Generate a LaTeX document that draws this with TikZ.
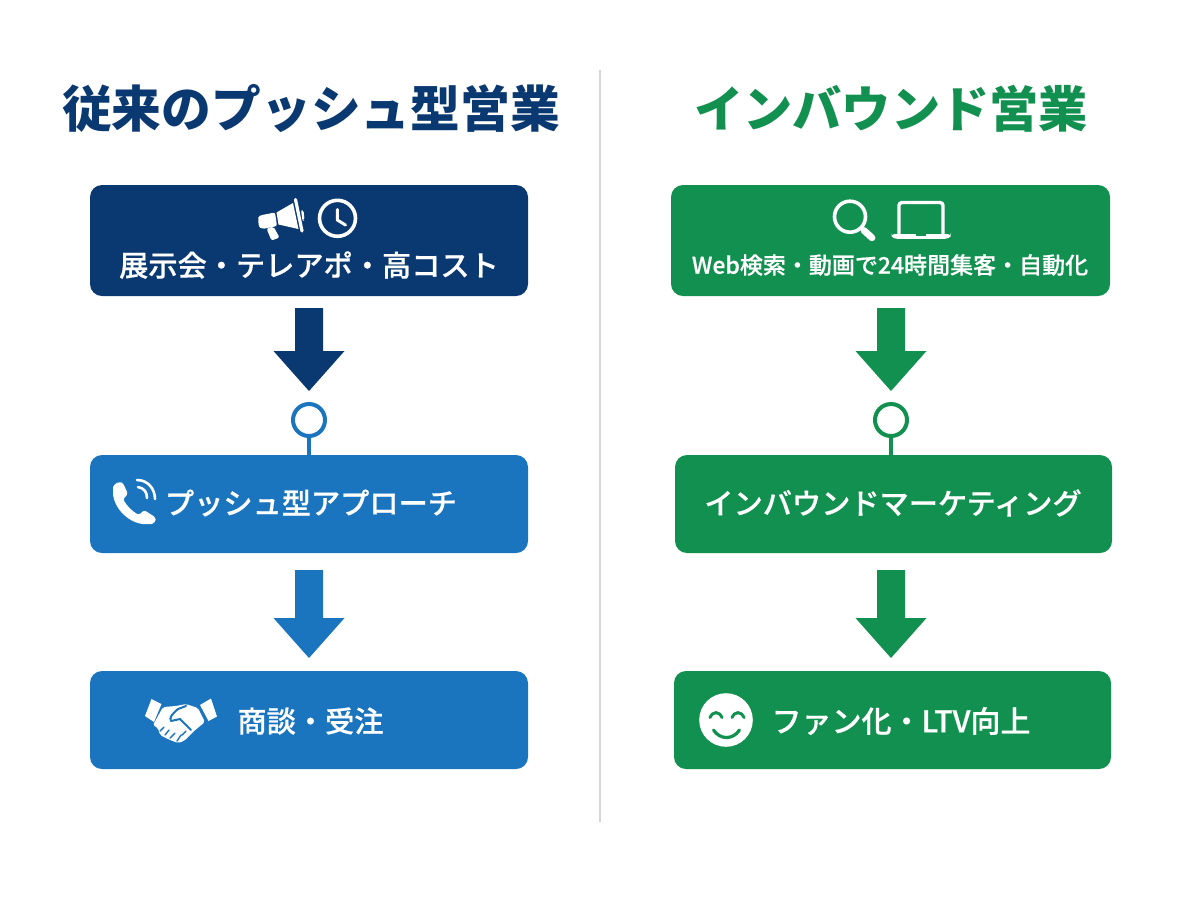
\documentclass[tikz,border=0pt]{standalone}
\usepackage{fontspec}
\setmainfont{Noto Sans CJK JP}
\newfontfamily\medfont[FakeBold=0.5]{Noto Sans CJK JP Medium}
\usetikzlibrary{shapes.arrows}
\definecolor{navy}{HTML}{0A3871}
\definecolor{blu}{HTML}{1A74BE}
\definecolor{grn}{HTML}{12904F}
\definecolor{divi}{HTML}{D6D6D6}
\tikzset{
  box/.style={rounded corners=6pt,minimum height=#1,inner sep=0pt,text=white},
  lab/.style={text=white,font=\fontsize{14.6}{16}\selectfont\medfont,inner sep=0pt},
  ttl/.style={font=\fontsize{24.9}{28}\selectfont\bfseries,inner sep=0pt},
  ring/.style={circle,draw=#1,line width=2pt,fill=white,minimum size=16pt,inner sep=0pt},
  stem/.style={line width=2pt},
}
\newcommand{\blockarrow}[5]{% name, colour, centre x, top y, shaft length
  \fill[#2] (#3-14,#4) -- (#3+14,#4) -- (#3+14,#4+#5) -- (#3+35.5,#4+#5) -- (#3,#4+#5+40) -- (#3-35.5,#4+#5) -- (#3-14,#4+#5) -- cycle;
  \coordinate (#1) at (#3,#4+#5+40);
}
\begin{document}
\begin{tikzpicture}[x=0.5pt,y=-0.5pt]
\useasboundingbox (0,0) rectangle (1200,896);
\fill[white] (0,0) rectangle (1200,896);
% divider
\coordinate (dt) at (600,70); \coordinate (db) at (600,822);
\draw[divi,line width=1pt] (dt) -- (db);
% titles
\node[ttl,text=navy] (t1) at (311,109) {従来のプッシュ型営業};
\node[ttl,text=grn,font=\fontsize{24.6}{28}\selectfont\bfseries] (t2) at (891,109) {インバウンド営業};
% left boxes
\node[box=55.5pt,fill=navy,minimum width=219pt] (a1) at (309,240.5) {};
\node[box=49pt,fill=blu,minimum width=219pt] (a2) at (309,504) {};
\node[box=49pt,fill=blu,minimum width=219pt] (a3) at (309,720) {};
% right boxes
\node[box=55.5pt,fill=grn,minimum width=219.5pt] (b1) at (890.5,240.5) {};
\node[box=49pt,fill=grn,minimum width=218.5pt] (b2) at (893.5,504) {};
\node[box=49pt,fill=grn,minimum width=218.5pt] (b3) at (892.5,720) {};
% labels
\node[lab] (la1) at (309,265) {展示会・テレアポ・高コスト};
\node[lab] (la2) at (311,503) {プッシュ型アプローチ};
\node[lab] (la3) at (310.5,721) {商談・受注};
\node[lab,font=\fontsize{11.5}{14}\selectfont\medfont] (lb1) at (890,265) {Web検索・動画で24時間集客・自動化};
\node[lab] (lb2) at (893,503) {インバウンドマーケティング};
\node[lab,font=\fontsize{15}{16}\selectfont\medfont] (lb3) at (901,721) {ファン化・LTV向上};
% block arrows
\blockarrow{ar1}{navy}{309}{308}{43}
\blockarrow{ar2}{blu}{309}{570}{48}
\blockarrow{br1}{grn}{891}{308}{43}
\blockarrow{br2}{grn}{891}{570}{48}
% rings
\node[ring=blu] (ca) at (309,420) {};
\node[ring=grn] (cb) at (891,420) {};
\draw[blu,stem] (ca.south) -- (ca.south |- a2.north);
\draw[grn,stem] (cb.south) -- (cb.south |- b2.north);
% megaphone
\fill[white,rounded corners=1pt] (258.5,219) .. controls (259,215) and (265,214.5) .. (275,212.5) -- (277,226) -- (262,229) .. controls (259,227) and (258,223) .. (258.5,219) -- cycle;
\fill[white,rounded corners=1pt] (266.5,228.5) -- (273.5,226.5) -- (279.5,237.5) -- (271.5,240.5) -- cycle;
\fill[white] (276.5,212.5) -- (293,203) -- (298.5,229) -- (278.5,224.5) -- cycle;
\draw[white,line width=1.6pt,line cap=round] (295.5,199.5) -- (302,231);
\fill[white,rounded corners=1pt] (301,210) -- (303.5,210) -- (304.5,220) -- (302.5,221) -- cycle;
% clock
\node[circle,draw=white,line width=1.8pt,minimum size=18pt,inner sep=0pt] (clk) at (337.5,218.3) {};
\draw[white,line width=1.5pt,line cap=round,line join=round] (337.3,209.5) -- (337.3,220) -- (345.5,225);
% phone
\fill[white,rounded corners=1.2pt] (113,490) .. controls (113,486) and (116,483) .. (120,482) -- (123,483) -- (128,494) -- (123,499) .. controls (127,506) and (132,511) .. (139,515) -- (144,510) -- (155,517) .. controls (156,521) and (153,524) .. (149,524) .. controls (130,525) and (113,508) .. (113,490) -- cycle;
\draw[white,line width=1.3pt,line cap=round] (138,487) .. controls (144,488) and (147,492) .. (147,498);
\draw[white,line width=1.3pt,line cap=round] (137,480) .. controls (148,480) and (155,489) .. (155,499);
% handshake
\fill[white] (151.5,699) -- (161.5,704) -- (154,722) -- (145,716) -- cycle;
\fill[white] (200,705) -- (211,698.5) -- (217,716.5) -- (208.5,721) -- cycle;
\fill[white,rounded corners=1pt] (163,707) -- (176,706) -- (186,704) -- (198,708) -- (205,722) -- (194,731) -- (184,741) -- (178,743) -- (170,740) -- (160,735) -- (158,728) -- (153,725) -- cycle;
\draw[blu,line width=1pt,line join=round,line cap=round] (191,730) -- (180,719) -- (171,721) .. controls (169,718) and (172,714) .. (178,709) -- (186,706);
\draw[blu,line width=.7pt,line cap=round] (164,727) -- (160,731) (169,730) -- (165,735) (175,733) -- (170,738) (181,735) -- (177,741) (186,731) -- (182,735);
% magnifier
\node[circle,draw=white,line width=1.8pt,minimum size=15.5pt,inner sep=0pt] (mg) at (850,216.7) {};
\draw[white,line width=1.5pt] (mg.-45) -- (864,230.5);
\draw[white,line width=3.4pt,line cap=round] (864,230.5) -- (872,237.8);
% laptop
\draw[white,line width=1.7pt,rounded corners=1.5pt] (899,234) -- (899,202.5) -- (943,202.5) -- (943,234);
\fill[white,rounded corners=1.5pt] (891.5,234) -- (950.5,234) -- (950.5,236) -- (948,238.8) -- (894,238.8) -- (891.5,236) -- cycle;
\fill[grn] (916,234.4) rectangle (926,235.6);
% smiley
\node[circle,fill=white,minimum size=26.8pt,inner sep=0pt] (sm) at (726,720) {};
\draw[grn,line width=1.5pt,line cap=round] (710,717.5) .. controls (713,711) and (719,711) .. (722,717.5);
\draw[grn,line width=1.5pt,line cap=round] (732,717.5) .. controls (735,711) and (741,711) .. (744,717.5);
\draw[grn,line width=1.6pt,line cap=round] (713.5,730) .. controls (720,740) and (733,740) .. (739.5,730);
\end{tikzpicture}
\end{document}
